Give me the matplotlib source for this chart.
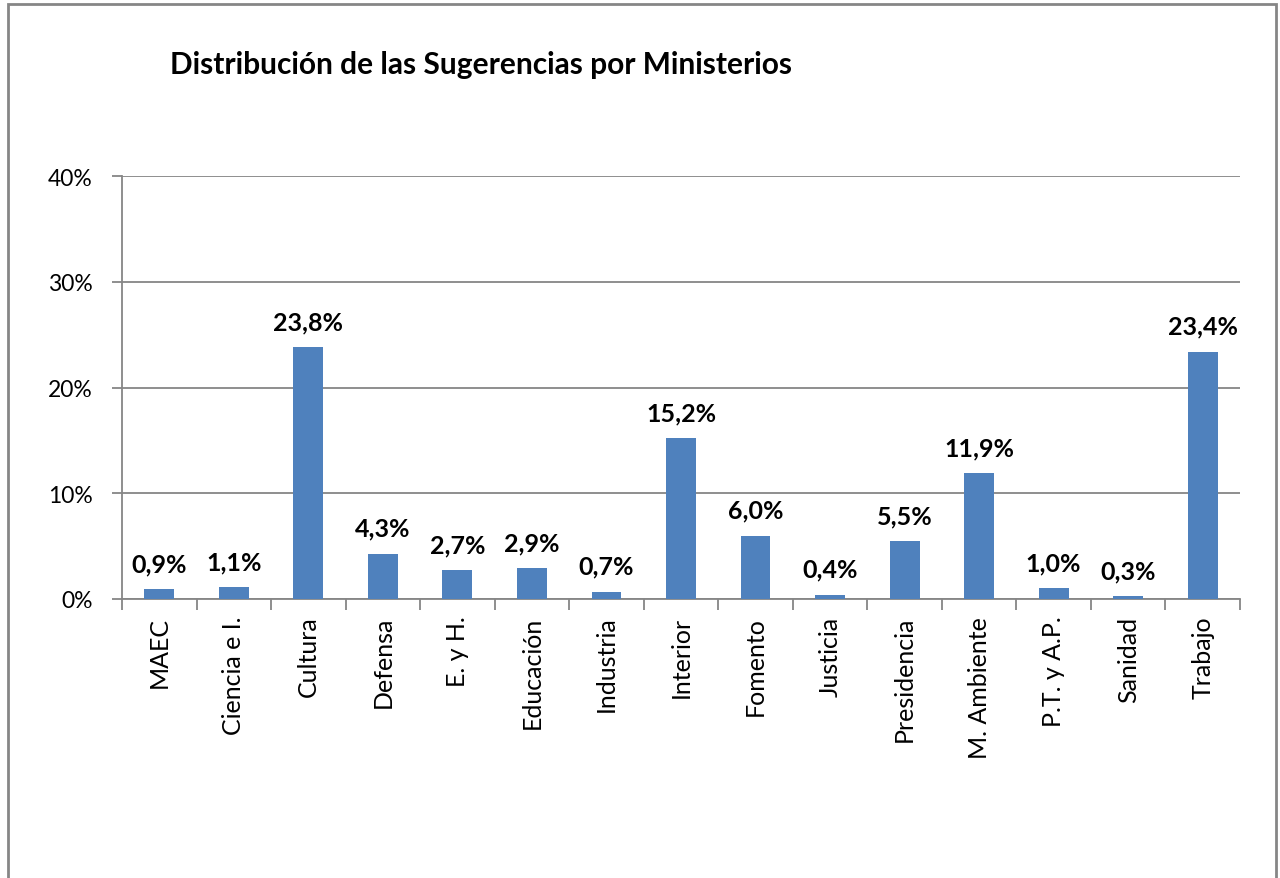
import matplotlib.pyplot as plt
from matplotlib.patches import Rectangle
import numpy as np

plt.rcParams['font.family'] = ['Lato', 'DejaVu Sans']

# datos
ministerios = ['MAEC', 'Ciencia e I.', 'Cultura', 'Defensa', 'E. y H.', 'Educación',
               'Industria', 'Interior', 'Fomento', 'Justicia', 'Presidencia',
               'M. Ambiente', 'P.T. y A.P.', 'Sanidad', 'Trabajo']
porcentajes = [0.9, 1.1, 23.8, 4.3, 2.7, 2.9, 0.7, 15.2, 6.0, 0.4, 5.5, 11.9, 1.0, 0.3, 23.4]
yticks = [0, 10, 20, 30, 40]

gris = '#868686'

fig = plt.figure(figsize=(12.8, 8.79), dpi=100)
ax = fig.add_axes([122 / 1280, 1 - 600 / 879, (1240 - 122) / 1280, (600 - 177) / 879])

x = np.arange(len(ministerios))
ax.bar(x, porcentajes, width=0.4, color='#4F81BD', zorder=3)

for xi, v in zip(x, porcentajes):
    ax.annotate(f"{v:.1f}%".replace('.', ','), (xi, v), xytext=(0, 10),
                textcoords='offset points', ha='center', va='bottom',
                fontsize=18, fontweight='bold')

ax.set_xlim(-0.5, len(ministerios) - 0.5)
ax.set_ylim(0, 40)
ax.set_yticks(yticks)
ax.set_yticklabels([f"{t}%" for t in yticks], fontsize=16.5)
ax.yaxis.grid(True, color=gris, linewidth=1.3, zorder=0)
ax.tick_params(axis='y', length=7, color=gris, width=1.3, pad=14)

ax.set_xticks(x)
ax.set_xticklabels(ministerios, rotation=90, fontsize=18)
ax.set_xticks(np.arange(-0.5, len(ministerios)), minor=True)
ax.tick_params(axis='x', which='major', length=0, pad=12)
ax.tick_params(axis='x', which='minor', length=8, color=gris, width=1.3)

for s in ['top', 'right']:
    ax.spines[s].set_visible(False)
for s in ['left', 'bottom']:
    ax.spines[s].set_color(gris)
    ax.spines[s].set_linewidth(1.3)

fig.text(170 / 1280, 1 - 65 / 879, 'Distribución de las Sugerencias por Ministerios',
         fontsize=21.5, fontweight='bold', va='center', ha='left')

# marco del gráfico
fig.patches.append(Rectangle((8 / 1280, -0.05), (1276 - 8) / 1280, 1.05 - 5 / 879,
                             transform=fig.transFigure, fill=False,
                             edgecolor=gris, linewidth=2))

plt.savefig('out.png')
